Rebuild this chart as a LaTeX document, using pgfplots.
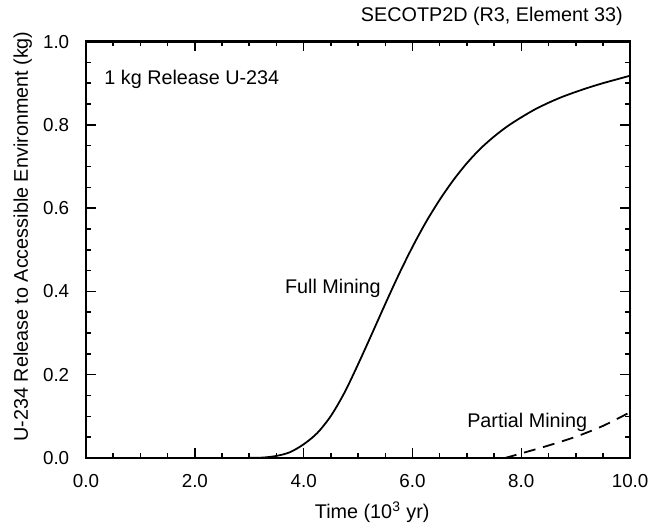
\documentclass[border=0pt]{standalone}
\usepackage{fontspec}
\setmainfont{Liberation Sans}
\usepackage{pgfplots}
\pgfplotsset{compat=1.18}

\begin{document}
\begin{tikzpicture}
\begin{axis}[
  scale only axis,
  width=275pt, height=210.5pt,
  xmin=0, xmax=10, ymin=0, ymax=1,
  xtick={0,2,...,10}, ytick={0,0.2,...,1},
  minor x tick num=3, minor y tick num=3,
  major tick length=5pt, minor tick length=2.5pt,
  axis line style={line width=1.2pt},
  tick style={line width=0.8pt, black},
  /pgf/number format/.cd, fixed, fixed zerofill, precision=1, assume math mode=true,
  /pgfplots/.cd,
  tick label style={font=\fontsize{9.5}{11}\selectfont},
  xticklabel style={yshift=-5pt},
  yticklabel style={xshift=-5pt},
  label style={font=\fontsize{10}{12}\selectfont},
  xlabel={Time (10\textsuperscript{3} yr)},
  ylabel={U-234 Release to Accessible Environment (kg)},
  xlabel style={at={(axis description cs:0.526,-0.131)}, anchor=center},
  ylabel style={at={(axis description cs:-0.1164,0.532)}, anchor=center},
  clip=false,
]
% full mining
\addplot[black, line width=0.9pt, smooth] coordinates {
  (0,0) (2.75,0) (3.0,0.0003) (3.25,0.001) (3.5,0.005) (3.75,0.014)
  (4.0,0.033) (4.25,0.060) (4.5,0.101) (4.75,0.157) (5.0,0.225)
  (5.25,0.297) (5.5,0.370) (5.75,0.441) (6.0,0.507) (6.25,0.567)
  (6.5,0.620) (6.75,0.667) (7.0,0.708) (7.25,0.743) (7.5,0.772)
  (7.75,0.797) (8.0,0.818) (8.25,0.837) (8.5,0.853) (8.75,0.867)
  (9.0,0.879) (9.25,0.890) (9.5,0.900) (9.75,0.909) (10,0.918)
};
% partial mining
\addplot[black, line width=0.9pt, smooth, dash pattern=on 6pt off 4pt] coordinates {
  (7.7,0) (8.0,0.011) (8.5,0.030) (9.0,0.051) (9.5,0.077) (10,0.11)
};
\node[anchor=base west, inner sep=0, font=\fontsize{10}{12}\selectfont]
  at (axis cs:0.33,0.898) {1 kg Release U-234};
\node[anchor=base west, inner sep=0, font=\fontsize{10}{12}\selectfont]
  at (axis cs:3.65,0.394) {Full Mining};
\node[anchor=base west, inner sep=0, font=\fontsize{10}{12}\selectfont]
  at (axis cs:7.0,0.074) {Partial Mining};
\node[anchor=base east, inner sep=0, font=\fontsize{10}{12}\selectfont]
  at ([yshift=10pt]axis description cs:0.987,1) {SECOTP2D (R3, Element 33)};
\end{axis}
\path ([xshift=-43.5pt,yshift=-34pt]current axis.south west)
  rectangle ([xshift=9pt,yshift=21pt]current axis.north east);
\end{tikzpicture}
\end{document}
